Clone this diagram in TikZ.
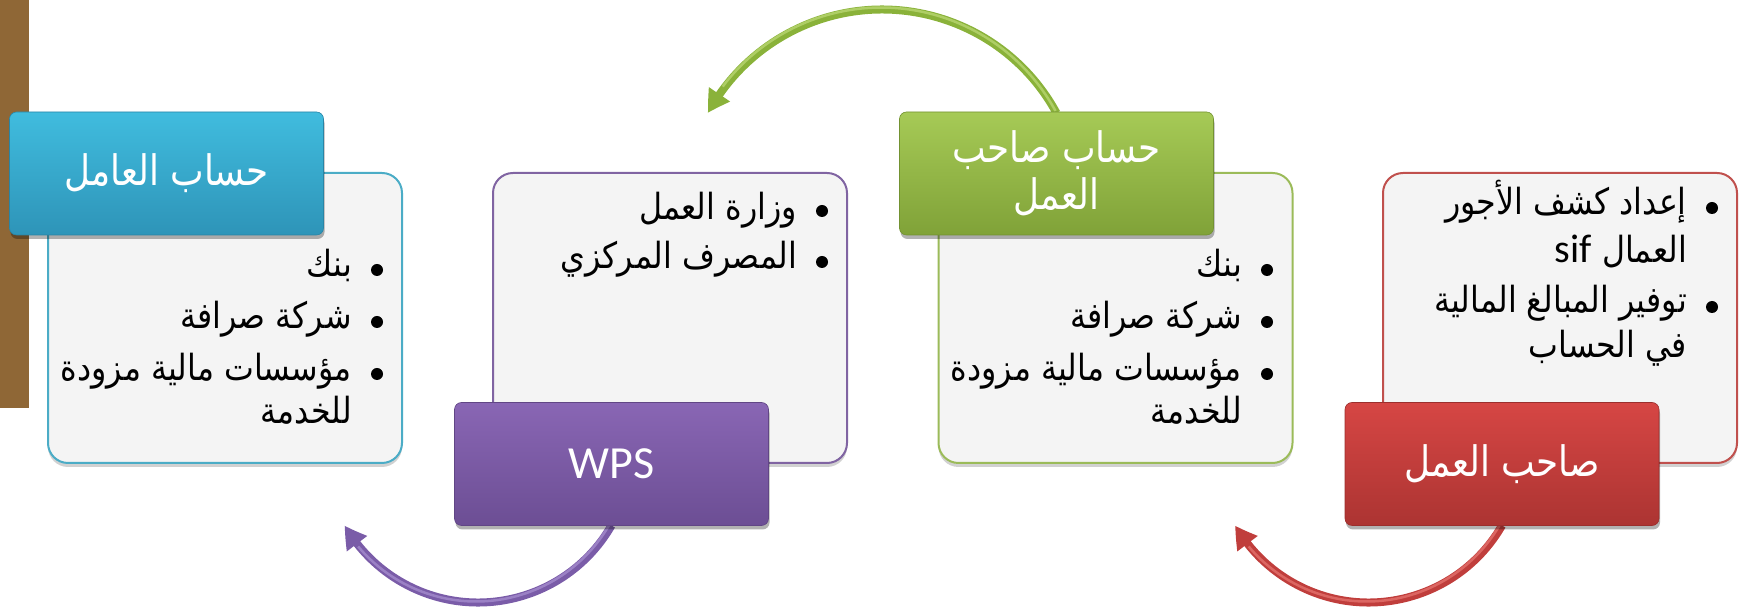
\documentclass[tikz,border=0pt]{standalone}
\usepackage{fontspec}
\setmainfont{DejaVu Sans}
\newfontfamily\arabicbody[Script=Arabic,FakeStretch=0.88]{DejaVu Sans}
\newfontfamily\arabichead[Script=Arabic,FakeStretch=0.85]{DejaVu Sans}
\newfontfamily\latinfont{Carlito}
\TeXXeTstate=1
\usetikzlibrary{arrows.meta,bending,shadows}
\newcommand{\AR}[1]{\beginR #1\endR}
\definecolor{brownbar}{RGB}{143,103,54}
\definecolor{boxfill}{RGB}{244,244,244}
\definecolor{wline}{RGB}{75,172,198}
\definecolor{pline}{RGB}{128,100,162}
\definecolor{gline}{RGB}{155,187,89}
\definecolor{rline}{RGB}{192,80,77}
\definecolor{wtop}{RGB}{64,188,222}
\definecolor{wbot}{RGB}{46,148,184}
\definecolor{ptop}{RGB}{137,102,180}
\definecolor{pbot}{RGB}{108,78,148}
\definecolor{gtop}{RGB}{166,202,86}
\definecolor{gbot}{RGB}{128,162,56}
\definecolor{rtop}{RGB}{214,70,68}
\definecolor{rbot}{RGB}{172,52,50}
\definecolor{garrow}{RGB}{138,178,58}
\definecolor{garrowhi}{RGB}{190,218,120}
\definecolor{parrow}{RGB}{122,92,168}
\definecolor{parrowhi}{RGB}{170,145,210}
\definecolor{rarrow}{RGB}{192,62,60}
\definecolor{rarrowhi}{RGB}{232,120,115}
\begin{document}
\begin{tikzpicture}[x=1pt,y=1pt,
  tbox/.style={draw, line width=2pt, fill=boxfill, rounded corners=20pt,
    minimum width=354pt, minimum height=290pt, inner sep=0pt,
    drop shadow={shadow xshift=0pt, shadow yshift=-4pt, opacity=0.18, fill=black}},
  hdr/.style={rounded corners=7pt, minimum width=314pt, minimum height=123pt,
    inner sep=0pt, text=white, align=center,
    font=\arabichead\fontsize{42}{47}\selectfont,
    drop shadow={shadow xshift=1pt, shadow yshift=-4pt, opacity=0.3, fill=black}},
  bodyline/.style={anchor=base east, inner sep=0pt, font=\arabicbody\fontsize{36}{40}\selectfont},
  bul/.style={circle, fill=black, inner sep=0pt, minimum size=12pt},
  arcarrow/.style={line width=8pt, -{Triangle[length=22pt,width=24pt,bend]}},
  archi/.style={line width=2.5pt, opacity=0.7},
]
\useasboundingbox (0,0) rectangle (1745,615);
% brown bar
\fill[brownbar] (0,207) rectangle (29,615);

% text boxes
\node[tbox, draw=wline] (wbox) at (225,297) {};
\node[tbox, draw=pline] (pbox) at (670,297) {};
\node[tbox, draw=gline] (gbox) at (1115.5,297) {};
\node[tbox, draw=rline] (rbox) at (1560,297) {};

% header centres
\path (166.5,441.5) coordinate (wc) (611.5,151) coordinate (pc)
      (1056.5,441.5) coordinate (gc) (1502,151) coordinate (rc);

% arrows
\draw[arcarrow, draw=parrow] (611.5,89.5) coordinate (ps) arc[start angle=-30, end angle=-150, radius=154];
\draw[archi, draw=parrowhi] (ps) ++(-2,1) arc[start angle=-30, end angle=-140, radius=154];
\draw[arcarrow, draw=rarrow] (1502,89.5) coordinate (rs) arc[start angle=-30, end angle=-150, radius=154];
\draw[archi, draw=rarrowhi] (rs) ++(-2,1) arc[start angle=-30, end angle=-140, radius=154];
\draw[arcarrow, draw=garrow] (1056.5,502) coordinate (gs) arc[start angle=28.6, end angle=151.4, radius=198.5];
\draw[archi, draw=garrowhi] (gs) ++(-1,2) arc[start angle=28.6, end angle=143, radius=198.5];

% headers
\node[hdr, top color=wtop, bottom color=wbot, draw=wbot!90!black, line width=0.6pt] (worker) at (wc) {\AR{حساب العامل}};
\node[hdr, top color=ptop, bottom color=pbot, draw=pbot!90!black, line width=0.6pt, font=\latinfont\fontsize{46}{50}\selectfont] (wps) at (pc) {WPS};
\node[hdr, top color=gtop, bottom color=gbot, draw=gbot!90!black, line width=0.6pt] (employeracc) at (gc) {\AR{حساب صاحب}\\\AR{العمل}};
\node[hdr, top color=rtop, bottom color=rbot, draw=rbot!90!black, line width=0.6pt] (employer) at (rc) {\AR{صاحب العمل}};

% worker list
\node[bodyline] (wl1) at (352,338) {\AR{بنك}};
\node[bodyline] (wl2) at (352,286) {\AR{شركة صرافة}};
\node[bodyline] (wl3) at (352,234) {\AR{مؤسسات مالية مزودة}};
\node[bodyline] (wl4) at (352,191) {\AR{للخدمة}};
\node[bul] (wb1) at (377,345) {};
\node[bul] (wb2) at (377,293) {};
\node[bul] (wb3) at (377,241) {};

% WPS list
\node[bodyline] (pl1) at (797,395) {\AR{وزارة العمل}};
\node[bodyline] (pl2) at (797,346) {\AR{المصرف المركزي}};
\node[bul] (pb1) at (822,404) {};
\node[bul] (pb2) at (822,353) {};

% employer account list
\node[bodyline] (gl1) at (1242,338) {\AR{بنك}};
\node[bodyline] (gl2) at (1242,286) {\AR{شركة صرافة}};
\node[bodyline] (gl3) at (1242,234) {\AR{مؤسسات مالية مزودة}};
\node[bodyline] (gl4) at (1242,191) {\AR{للخدمة}};
\node[bul] (gb1) at (1267,345) {};
\node[bul] (gb2) at (1267,293) {};
\node[bul] (gb3) at (1267,241) {};

% employer list
\node[bodyline] (rl1) at (1687,400) {\AR{إعداد كشف الأجور}};
\node[bodyline] (rl2) at (1687,352) {\AR{العمال {\latinfont\fontsize{40}{40}\selectfont\beginL sif\endL}}};
\node[bodyline] (rl3) at (1687,302) {\AR{توفير المبالغ المالية}};
\node[bodyline] (rl4) at (1687,257) {\AR{في الحساب}};
\node[bul] (rb1) at (1712,407) {};
\node[bul] (rb2) at (1712,308) {};
\end{tikzpicture}
\end{document}
